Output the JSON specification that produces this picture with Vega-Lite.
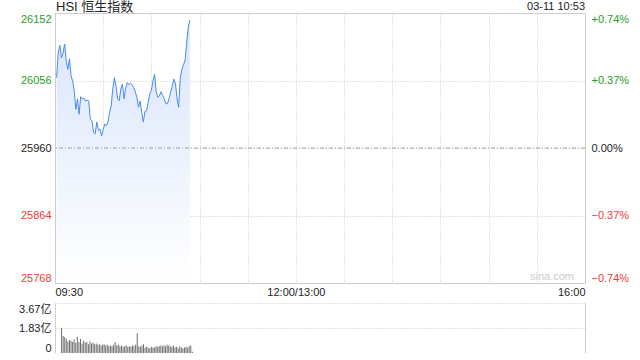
{
  "$schema": "https://vega.github.io/schema/vega-lite/v6.json",
  "padding": {"left": 18, "top": 0, "right": 0, "bottom": 0},
  "autosize": {"type": "pad"},
  "background": "white",
  "bounds": "flush",
  "spacing": 20,
  "config": {
    "font": "Liberation Sans, Noto Sans CJK SC, sans-serif",
    "axis": {"labelFont": "Liberation Sans, Noto Sans CJK SC, sans-serif", "labelFontSize": 11, "ticks": false, "title": null, "gridColor": "#c8c8c8", "gridDash": [1, 2], "gridWidth": 1},
    "text": {"font": "Liberation Sans, Noto Sans CJK SC, sans-serif"}
  },
  "datasets": {
    "px": [
      {"minute": 1, "price": 26060}, {"minute": 2, "price": 26095}, {"minute": 3, "price": 26106}, {"minute": 4, "price": 26088},
      {"minute": 5, "price": 26095}, {"minute": 6, "price": 26108}, {"minute": 7, "price": 26084}, {"minute": 8, "price": 26072},
      {"minute": 9, "price": 26087}, {"minute": 10, "price": 26063}, {"minute": 11, "price": 26055}, {"minute": 12, "price": 26041},
      {"minute": 13, "price": 26015}, {"minute": 14, "price": 26030}, {"minute": 15, "price": 26008}, {"minute": 16, "price": 26033},
      {"minute": 17, "price": 26030}, {"minute": 18, "price": 26031}, {"minute": 19, "price": 26027}, {"minute": 20, "price": 26028},
      {"minute": 21, "price": 26027}, {"minute": 22, "price": 26001}, {"minute": 23, "price": 25999}, {"minute": 24, "price": 25982},
      {"minute": 25, "price": 25980}, {"minute": 26, "price": 25997}, {"minute": 27, "price": 25985}, {"minute": 28, "price": 25987},
      {"minute": 29, "price": 25977}, {"minute": 30, "price": 25986}, {"minute": 31, "price": 25994}, {"minute": 32, "price": 25992},
      {"minute": 33, "price": 25997}, {"minute": 34, "price": 26011}, {"minute": 35, "price": 26020}, {"minute": 36, "price": 26045},
      {"minute": 37, "price": 26060}, {"minute": 38, "price": 26048}, {"minute": 39, "price": 26030}, {"minute": 40, "price": 26027},
      {"minute": 41, "price": 26044}, {"minute": 42, "price": 26051}, {"minute": 43, "price": 26030}, {"minute": 44, "price": 26045},
      {"minute": 45, "price": 26053}, {"minute": 46, "price": 26050}, {"minute": 47, "price": 26052}, {"minute": 48, "price": 26050},
      {"minute": 49, "price": 26046}, {"minute": 50, "price": 26040}, {"minute": 51, "price": 26032}, {"minute": 52, "price": 26018},
      {"minute": 53, "price": 26027}, {"minute": 54, "price": 26011}, {"minute": 55, "price": 25997}, {"minute": 56, "price": 26012},
      {"minute": 57, "price": 26013}, {"minute": 58, "price": 26025}, {"minute": 59, "price": 26037}, {"minute": 60, "price": 26042},
      {"minute": 61, "price": 26055}, {"minute": 62, "price": 26065}, {"minute": 63, "price": 26040}, {"minute": 64, "price": 26032},
      {"minute": 65, "price": 26034}, {"minute": 66, "price": 26040}, {"minute": 67, "price": 26035}, {"minute": 68, "price": 26030},
      {"minute": 69, "price": 26023}, {"minute": 70, "price": 26023}, {"minute": 71, "price": 26030}, {"minute": 72, "price": 26039},
      {"minute": 73, "price": 26048}, {"minute": 74, "price": 26058}, {"minute": 75, "price": 26051}, {"minute": 76, "price": 26030},
      {"minute": 77, "price": 26018}, {"minute": 78, "price": 26060}, {"minute": 79, "price": 26072}, {"minute": 80, "price": 26078},
      {"minute": 81, "price": 26085}, {"minute": 82, "price": 26110}, {"minute": 83, "price": 26132}, {"minute": 84, "price": 26142}
    ],
    "vol": [
      {"minute": 1, "vol": 1.85}, {"minute": 2, "vol": 1.25}, {"minute": 3, "vol": 1.15}, {"minute": 4, "vol": 1.05},
      {"minute": 5, "vol": 0.85}, {"minute": 6, "vol": 0.95}, {"minute": 7, "vol": 0.9}, {"minute": 8, "vol": 0.8},
      {"minute": 9, "vol": 1.0}, {"minute": 10, "vol": 0.75}, {"minute": 11, "vol": 1.2}, {"minute": 12, "vol": 0.8},
      {"minute": 13, "vol": 1.05}, {"minute": 14, "vol": 0.7}, {"minute": 15, "vol": 0.9}, {"minute": 16, "vol": 0.75},
      {"minute": 17, "vol": 0.8}, {"minute": 18, "vol": 0.65}, {"minute": 19, "vol": 0.85}, {"minute": 20, "vol": 0.7},
      {"minute": 21, "vol": 0.75}, {"minute": 22, "vol": 0.65}, {"minute": 23, "vol": 0.7}, {"minute": 24, "vol": 0.6},
      {"minute": 25, "vol": 0.65}, {"minute": 26, "vol": 0.55}, {"minute": 27, "vol": 0.6}, {"minute": 28, "vol": 0.65},
      {"minute": 29, "vol": 0.55}, {"minute": 30, "vol": 0.6}, {"minute": 31, "vol": 0.5}, {"minute": 32, "vol": 0.55},
      {"minute": 33, "vol": 0.5}, {"minute": 34, "vol": 0.6}, {"minute": 35, "vol": 0.8}, {"minute": 36, "vol": 0.55},
      {"minute": 37, "vol": 0.6}, {"minute": 38, "vol": 0.5}, {"minute": 39, "vol": 0.55}, {"minute": 40, "vol": 0.45},
      {"minute": 41, "vol": 0.5}, {"minute": 42, "vol": 0.55}, {"minute": 43, "vol": 0.45}, {"minute": 44, "vol": 0.5},
      {"minute": 45, "vol": 0.45}, {"minute": 46, "vol": 0.55}, {"minute": 47, "vol": 0.5}, {"minute": 48, "vol": 0.6},
      {"minute": 49, "vol": 1.45}, {"minute": 50, "vol": 0.5}, {"minute": 51, "vol": 0.45}, {"minute": 52, "vol": 0.55},
      {"minute": 53, "vol": 0.65}, {"minute": 54, "vol": 0.4}, {"minute": 55, "vol": 0.45}, {"minute": 56, "vol": 0.4},
      {"minute": 57, "vol": 0.35}, {"minute": 58, "vol": 0.45}, {"minute": 59, "vol": 0.4}, {"minute": 60, "vol": 0.4},
      {"minute": 61, "vol": 0.5}, {"minute": 62, "vol": 0.45}, {"minute": 63, "vol": 0.5}, {"minute": 64, "vol": 0.55},
      {"minute": 65, "vol": 0.5}, {"minute": 66, "vol": 0.55}, {"minute": 67, "vol": 0.5}, {"minute": 68, "vol": 0.6},
      {"minute": 69, "vol": 0.55}, {"minute": 70, "vol": 0.5}, {"minute": 71, "vol": 0.45}, {"minute": 72, "vol": 0.55},
      {"minute": 73, "vol": 0.4}, {"minute": 74, "vol": 0.45}, {"minute": 75, "vol": 0.35}, {"minute": 76, "vol": 0.5},
      {"minute": 77, "vol": 0.4}, {"minute": 78, "vol": 0.35}, {"minute": 79, "vol": 0.4}, {"minute": 80, "vol": 0.45},
      {"minute": 81, "vol": 0.4}, {"minute": 82, "vol": 0.5}, {"minute": 83, "vol": 0.55}, {"minute": 84, "vol": 0.1}
    ]
  },
  "vconcat": [
    {
      "width": 530,
      "height": 270,
      "view": {"stroke": "#cfcfcf"},
      "layer": [
        {
          "data": {"name": "px"},
          "layer": [
            {
              "mark": {"type": "area", "line": false, "color": {"x1": 1, "y1": 1, "x2": 1, "y2": 0, "gradient": "linear", "stops": [{"offset": 0, "color": "#ffffff"}, {"offset": 1, "color": "#d8e5fb"}]}},
              "encoding": {
                "x": {"field": "minute", "type": "quantitative", "scale": {"domain": [0, 330], "nice": false, "zero": false},
                  "axis": {"values": [0, 30, 60, 90, 120, 150, 180, 210, 240, 270, 300, 330], "grid": true, "domain": false, "labelFlush": true, "labelPadding": 3, "labelColor": "#222222",
                    "labelExpr": "datum.value == 0 ? '09:30' : datum.value == 150 ? '12:00/13:00' : datum.value == 330 ? '16:00' : ''"}},
                "y": {"field": "price", "type": "quantitative", "scale": {"domain": [25768, 26152], "nice": false, "zero": false},
                  "axis": {"orient": "left", "values": [25768, 25864, 25960, 26056, 26152], "format": "d", "grid": true, "domain": false, "labelFlush": true, "labelPadding": 4,
                    "labelColor": {"expr": "datum.value > 25960 ? '#1f9e1f' : datum.value < 25960 ? '#f23a3a' : '#222222'"}}},
                "y2": {"datum": 25768}
              }
            },
            {
              "mark": {"type": "line", "color": "#4d88f0", "strokeWidth": 1},
              "encoding": {
                "x": {"field": "minute", "type": "quantitative"},
                "y": {"field": "price", "type": "quantitative"}
              }
            },
            {
              "data": {"values": [{"t": "03-11 10:53"}]},
              "mark": {"type": "text", "align": "right", "baseline": "alphabetic", "dy": -3, "fontSize": 11, "color": "#222222"},
              "encoding": {
                "x": {"datum": 330, "type": "quantitative"},
                "y": {"datum": 26152, "type": "quantitative"},
                "text": {"field": "t"}
              }
            },
            {
              "data": {"values": [{"t": "HSI 恒生指数"}]},
              "mark": {"type": "text", "align": "left", "baseline": "alphabetic", "dy": -2, "dx": 1, "fontSize": 13, "color": "#222222"},
              "encoding": {
                "x": {"datum": 0, "type": "quantitative"},
                "y": {"datum": 26152, "type": "quantitative"},
                "text": {"field": "t"}
              }
            },
            {
              "data": {"values": [{"t": "sina.com"}]},
              "mark": {"type": "text", "align": "right", "baseline": "alphabetic", "dy": -3, "dx": -11, "fontSize": 11, "color": "#cccccc"},
              "encoding": {
                "x": {"datum": 330, "type": "quantitative"},
                "y": {"datum": 25768, "type": "quantitative"},
                "text": {"field": "t"}
              }
            }
          ]
        },
        {
          "data": {"values": [{"pct": 0}]},
          "mark": {"type": "rule", "color": "#a0a0a0", "strokeDash": [4, 2, 1, 2], "strokeWidth": 1},
          "encoding": {
            "y": {"field": "pct", "type": "quantitative", "scale": {"domain": [-0.7396, 0.7396], "nice": false, "zero": false},
              "axis": {"orient": "right", "values": [-0.7396, -0.3698, 0, 0.3698, 0.7396], "grid": false, "domain": false, "labelFlush": true, "labelPadding": 6,
                "labelExpr": "(datum.value > 0.0001 ? '+' : '') + format(datum.value, '.2f') + '%'",
                "labelColor": {"expr": "datum.value > 0.0001 ? '#1f9e1f' : datum.value < -0.0001 ? '#f23a3a' : '#222222'"}}}
          }
        }
      ],
      "resolve": {"scale": {"y": "independent"}, "axis": {"y": "independent"}}
    },
    {
      "width": 530,
      "height": 50,
      "view": {"stroke": null},
      "data": {"name": "vol"},
      "layer": [
        {
          "mark": {"type": "bar", "color": "#6e6e6e", "size": 1},
          "encoding": {
            "x": {"field": "minute", "type": "quantitative", "scale": {"domain": [0, 330], "nice": false, "zero": false}, "axis": null},
            "y": {"field": "vol", "type": "quantitative", "scale": {"domain": [0, 3.67], "nice": false},
              "axis": {"orient": "left", "values": [0, 1.835, 3.67], "grid": true, "domain": true, "domainColor": "#cfcfcf", "labelFlush": true, "labelPadding": 4, "labelColor": "#222222",
                "labelExpr": "datum.value == 0 ? '0' : datum.value > 3 ? '3.67亿' : '1.83亿'"}}
          }
        },
        {
          "mark": {"type": "rule", "opacity": 0},
          "encoding": {
            "y": {"datum": 0, "type": "quantitative", "scale": {"domain": [0, 3.67], "nice": false},
              "axis": {"orient": "right", "labels": false, "grid": false, "domain": true, "domainColor": "#cfcfcf"}}
          }
        }
      ],
      "resolve": {"scale": {"y": "independent"}, "axis": {"y": "independent"}}
    }
  ]
}
